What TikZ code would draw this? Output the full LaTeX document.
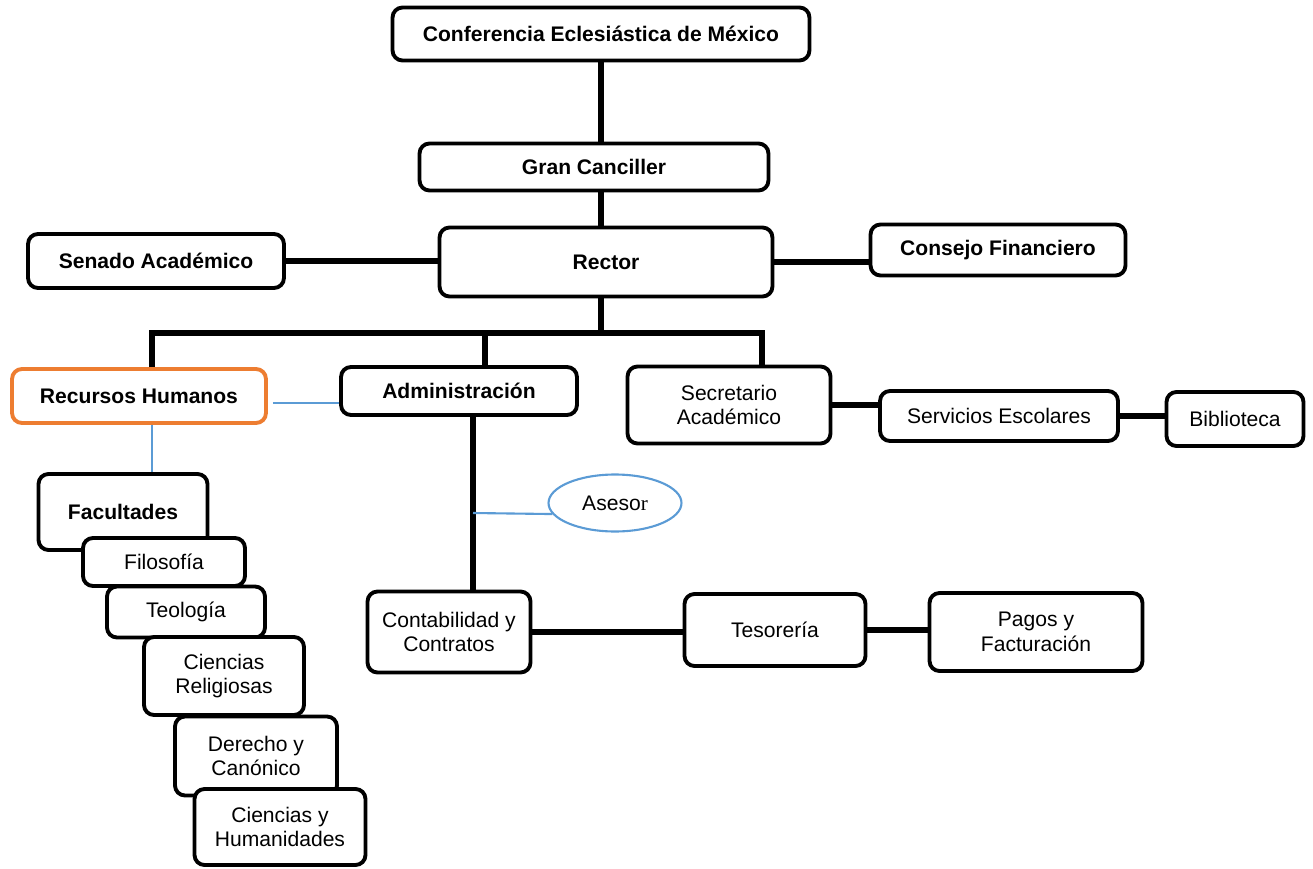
\documentclass[tikz,border=0pt]{standalone}
\usepackage{fontspec}
\setmainfont{Liberation Sans}
\newfontfamily\serifr{Liberation Serif}
\usepackage{xcolor}
\usetikzlibrary{shapes.geometric, positioning, calc}
\definecolor{naranja}{HTML}{ED7D31}
\definecolor{azul}{HTML}{5B9BD5}

\begin{document}
\begin{tikzpicture}[x=0.02cm, y=-0.02cm,
        caja/.style={draw, line width=2.2pt, rounded corners=0.2cm, fill=white,
            align=center, inner sep=0pt, font=\fontsize{12}{14}\selectfont},
        titulo/.style={caja, font=\fontsize{12}{14}\selectfont\bfseries},
        enlace/.style={line width=3pt},
        aux/.style={azul, line width=1.2pt}]
        \useasboundingbox (0,0) rectangle (1313,869);

        % Direccion
        \node[titulo, minimum width=8.34cm, minimum height=1.06cm] (cem) at (601,34) {Conferencia Eclesiástica de México};
        \node[titulo, minimum width=6.98cm, minimum height=0.94cm] (gran) at (594,167) {Gran Canciller};
        \node[titulo, minimum width=6.66cm, minimum height=1.38cm] (rector) at (606,262) {Rector};
        \node[titulo, minimum width=5.12cm, minimum height=1.08cm] (senado) at (156,261) {Senado Académico};
        \node[titulo, minimum width=5.1cm, minimum height=1.02cm] (consejo) at (998,250) {Consejo Financiero};

        % Segundo nivel
        \node[titulo, draw=naranja, minimum width=5.08cm, minimum height=1.08cm] (rh) at (139,396) {Recursos Humanos};
        \node[titulo, minimum width=4.72cm, minimum height=0.96cm] (admin) at (459,391) {Administración};
        \node[caja, minimum width=4.06cm, minimum height=1.54cm] (secr) at (729,405) {Secretario\\Académico};
        \node[caja, minimum width=4.76cm, minimum height=1.0cm] (serv) at (999,416) {Servicios Escolares};
        \node[caja, minimum width=2.74cm, minimum height=1.08cm] (bibl) at (1235,419) {Biblioteca};

        % Administracion
        \node[ellipse, draw=azul, line width=1.2pt, inner sep=0pt, minimum width=2.66cm, minimum height=1.14cm,
            font=\fontsize{12}{14}\selectfont] (asesor) at (615,503) {Aseso{\serifr r}};
        \node[caja, minimum width=3.26cm, minimum height=1.62cm] (cont) at (449,632) {Contabilidad y\\Contratos};
        \node[caja, minimum width=3.62cm, minimum height=1.44cm] (teso) at (775,630) {Tesorería};
        \node[caja, minimum width=4.26cm, minimum height=1.56cm] (pagos) at (1036,632) {Pagos y\\Facturación};

        % Facultades (cajas superpuestas)
        \node[titulo, minimum width=3.38cm, minimum height=1.52cm] (facul) at (123,512) {Facultades};
        \node[caja, minimum width=3.24cm, minimum height=0.96cm] (filo) at (164,562) {Filosofía};
        \node[caja, minimum width=3.16cm, minimum height=1.02cm] (teol) at (186,612) {Teología};
        \node[caja, minimum width=3.2cm, minimum height=1.56cm] (relig) at (224,676) {Ciencias\\Religiosas};
        \node[caja, minimum width=3.24cm, minimum height=1.58cm] (derecho) at (256,756) {Derecho y\\Canónico};
        \node[caja, minimum width=3.42cm, minimum height=1.52cm] (human) at (280,827) {Ciencias y\\Humanidades};

        % Conectores
        \coordinate (busL) at (152,333);
        \coordinate (busA) at (485,333);
        \coordinate (busR) at (762,333);
        \coordinate (vAse) at (473,513);
        \draw[enlace] (cem.south) -- (cem.south |- gran.north);
        \draw[enlace] (cem.south |- gran.south) -- (cem.south |- rector.north);
        \draw[enlace] (cem.south |- rector.south) -- (cem.south |- busL);
        \draw[enlace] (busL |- rh.north) -- (busL) -- (busR) -- (busR |- secr.north);
        \draw[enlace] (busA) -- (busA |- admin.north);
        \draw[enlace] (senado.east) -- (senado.east -| rector.west);
        \draw[enlace] (rector.east) -- (rector.east -| consejo.west);
        \draw[enlace] (secr.east) -- (secr.east -| serv.west);
        \draw[enlace] (serv.east) -- (serv.east -| bibl.west);
        \draw[enlace] (vAse |- admin.south) -- (vAse |- cont.north);
        \draw[enlace] (cont.east) -- (cont.east -| teso.west);
        \draw[enlace] (teso.east) -- (teso.east -| pagos.west);

        % Lineas azules
        \draw[aux] ([shift={(5,7)}]rh.east) -- ([shift={(0,12)}]admin.west);
        \draw[aux] (busL |- rh.south) -- (busL |- facul.north);
        \draw[aux] (vAse) -- (asesor.190);
    \end{tikzpicture}
\end{document}
